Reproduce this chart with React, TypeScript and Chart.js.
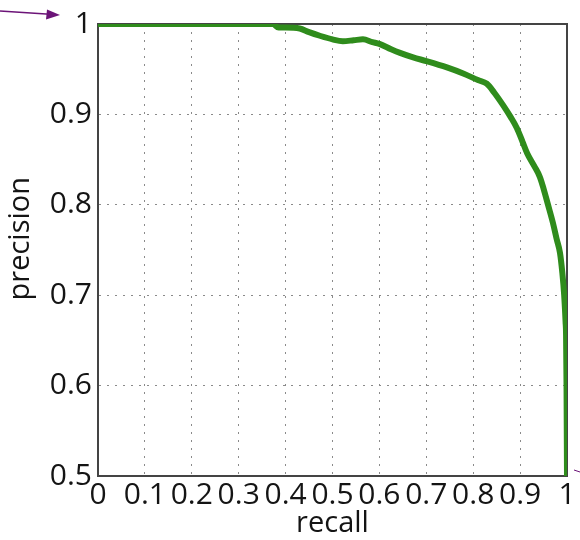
import React, { useEffect, useRef } from 'react';
import { Chart, registerables } from 'chart.js';

Chart.register(...registerables);

// Precision–recall curve
const recall = [
  0, 0.1, 0.2, 0.3, 0.35, 0.373, 0.385, 0.4, 0.43, 0.45, 0.473, 0.5, 0.522, 0.545,
  0.565, 0.585, 0.6, 0.625, 0.644, 0.672, 0.7, 0.744, 0.78, 0.81, 0.829, 0.845,
  0.864, 0.88, 0.893, 0.905, 0.915, 0.93, 0.942, 0.95, 0.959, 0.97, 0.978, 0.985,
  0.99, 0.994, 0.997, 0.998, 0.999, 1.0,
];
const precision = [
  1, 1, 1, 1, 1, 1, 0.996, 0.996, 0.995, 0.991, 0.987, 0.983, 0.981, 0.982,
  0.983, 0.98, 0.978, 0.972, 0.968, 0.963, 0.959, 0.952, 0.945, 0.938, 0.934, 0.924,
  0.91, 0.897, 0.885, 0.87, 0.857, 0.843, 0.831, 0.818, 0.801, 0.78, 0.762, 0.747,
  0.725, 0.7, 0.67, 0.656, 0.6, 0.5,
];

const xAxisTitle = 'recall';
const yAxisTitle = '   precision';
const xRange = [0, 1];
const yRange = [0.5, 1];
const tickStep = 0.1;

const FONT = "'Open Sans', 'Noto Sans', sans-serif";
const TEXT = '#141414';
const LINE = '#2f8c1c';

const fmt = (v: number | string) => {
  const n = Number(Number(v).toFixed(1));
  return String(n);
};

export default function App() {
  const ref = useRef<HTMLCanvasElement>(null);

  useEffect(() => {
    document.body.style.margin = '0';
    const canvas = ref.current;
    if (!canvas) return;

    const frame = {
      id: 'frame',
      beforeDatasetsDraw(chart: any) {
        const { left, top, right, bottom } = chart.chartArea;
        const c = chart.ctx;
        c.save();
        c.strokeStyle = '#444';
        c.lineWidth = 2;
        c.beginPath();
        c.moveTo(left, top);
        c.lineTo(right, top);
        c.lineTo(right, bottom);
        c.stroke();
        c.restore();
      },
    };

    const arrow = {
      id: 'arrow',
      afterDraw(chart: any) {
        const c = chart.ctx;
        c.save();
        c.strokeStyle = '#6c1478';
        c.fillStyle = '#6c1478';
        c.lineWidth = 1.6;
        c.beginPath();
        c.moveTo(0, 11);
        c.lineTo(50, 14.3);
        c.stroke();
        c.beginPath();
        c.moveTo(60, 15);
        c.lineTo(47, 9.5);
        c.lineTo(46, 19.5);
        c.closePath();
        c.fill();
        c.beginPath();
        c.moveTo(574, 470);
        c.lineTo(580, 472);
        c.lineWidth = 1;
        c.stroke();
        c.restore();
      },
    };

    const chart = new Chart(canvas, {
      type: 'scatter',
      data: {
        datasets: [
          {
            data: recall.map((r, i) => ({ x: r, y: precision[i] })),
            showLine: true,
            borderColor: LINE,
            backgroundColor: LINE,
            borderWidth: 6,
            pointRadius: 0,
            cubicInterpolationMode: 'monotone',
            fill: false,
          } as any,
        ],
      },
      options: {
        responsive: false,
        animation: false,
        plugins: { legend: { display: false }, tooltip: { enabled: false } },
        layout: { padding: { top: 18, right: 13, bottom: 0, left: 0 } },
        scales: {
          x: {
            type: 'linear',
            min: xRange[0],
            max: xRange[1],
            afterFit(s: any) {
              s.height = 64;
            },
            ticks: {
              stepSize: tickStep,
              autoSkip: false,
              maxRotation: 0,
              minRotation: 0,
              padding: 1,
              color: TEXT,
              font: { family: FONT, size: 30 },
              callback: (v: any) => fmt(v),
            },
            grid: { color: '#8a8a8a', lineWidth: 1, drawTicks: false },
            border: { color: '#444', width: 2, dash: [2, 6] },
            title: {
              display: true,
              text: xAxisTitle,
              color: TEXT,
              font: { family: FONT, size: 29, lineHeight: 1.1 },
              padding: 0,
            },
          },
          y: {
            type: 'linear',
            min: yRange[0],
            max: yRange[1],
            afterFit(s: any) {
              s.width = 98;
            },
            ticks: {
              stepSize: tickStep,
              padding: 6,
              color: TEXT,
              font: { family: FONT, size: 30 },
              callback: (v: any) => fmt(v),
            },
            grid: { color: '#8a8a8a', lineWidth: 1, drawTicks: false },
            border: { color: '#444', width: 2, dash: [2, 6] },
            title: {
              display: true,
              text: yAxisTitle,
              color: TEXT,
              font: { family: FONT, size: 29, lineHeight: 1.1 },
              padding: { top: 5, bottom: 0 },
            },
          },
        },
      },
      plugins: [frame, arrow],
    });

    return () => chart.destroy();
  }, []);

  return <canvas ref={ref} width={580} height={540} style={{ display: 'block' }} />;
}
